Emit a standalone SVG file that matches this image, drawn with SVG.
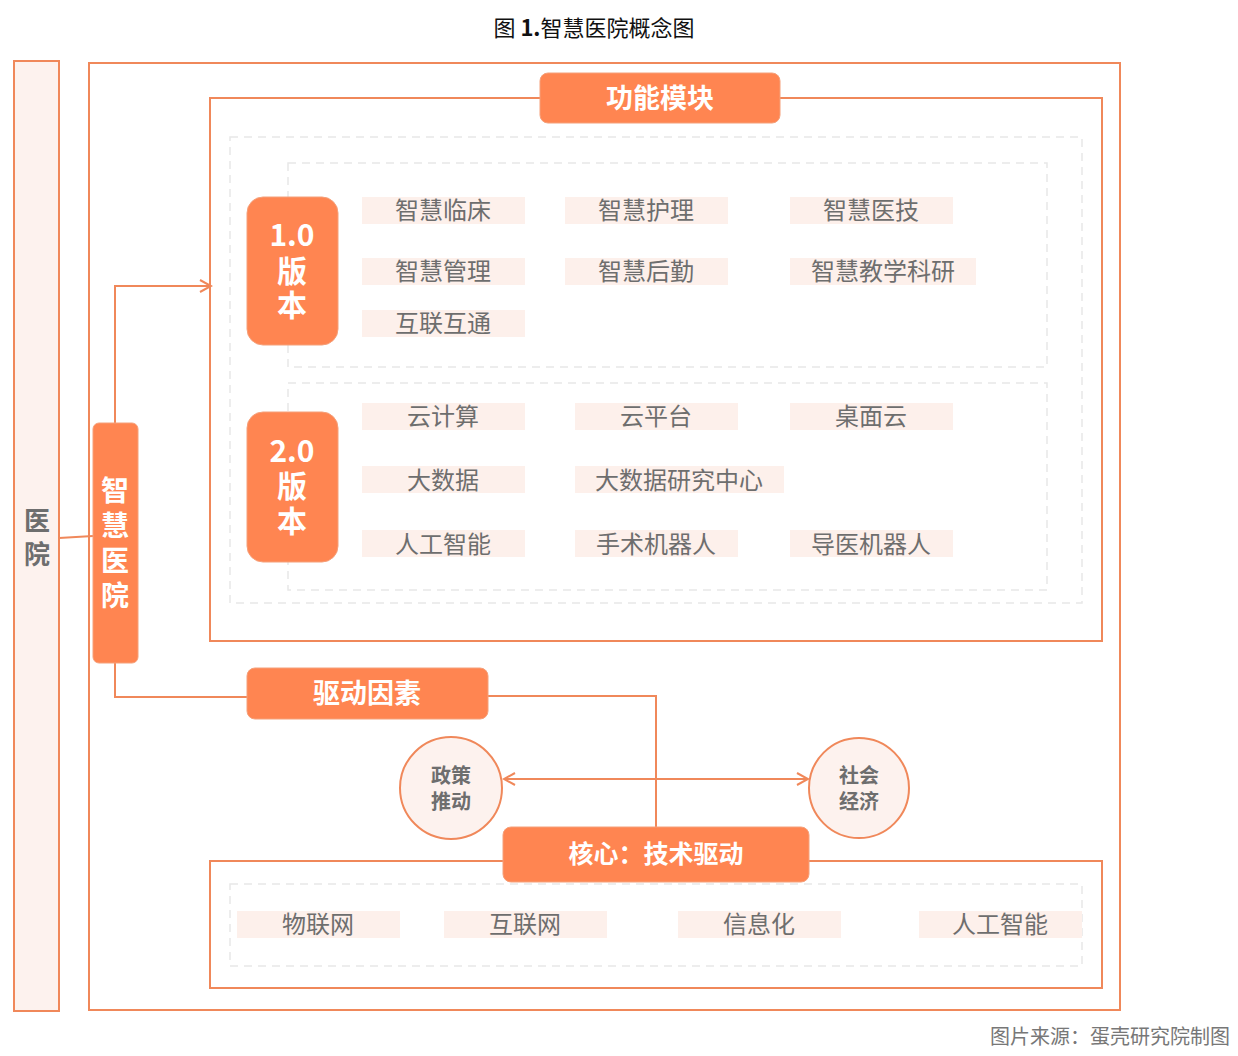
<svg xmlns="http://www.w3.org/2000/svg" width="1238" height="1056" viewBox="0 0 1238 1056">
<style>
text{font-family:"Noto Sans CJK SC","Noto Sans",sans-serif}
.ln{fill:none;stroke:#f0885a;stroke-width:2}
.dash{fill:none;stroke:#e8e8e8;stroke-width:1.5;stroke-dasharray:8 6}
.btn{fill:#ff8551;stroke:#f5a07a;stroke-width:1}
.bt{fill:#fff;font-weight:bold;text-anchor:middle}
.it{fill:#fdf0eb}
.itx{fill:#6e6e6e;font-size:24px;text-anchor:middle}
.cir{fill:#fdf2ee;stroke:#f0885a;stroke-width:2}
.ct{fill:#6e6e6e;font-size:20px;font-weight:bold;text-anchor:middle}
</style>
<defs>
<marker id="ar" markerWidth="14" markerHeight="14" refX="12" refY="7" orient="auto-start-reverse" markerUnits="userSpaceOnUse">
<path d="M1,1 L12,7 L1,13" fill="none" stroke="#f0885a" stroke-width="2"/>
</marker>
</defs>
<rect width="1238" height="1056" fill="#fff"/>
<text x="594" y="36" font-size="22" text-anchor="middle" fill="#111">图 <tspan font-weight="bold">1.</tspan>智慧医院概念图</text>
<g id="hospital"><rect x="14" y="61" width="45" height="950" fill="#fdf2ee" stroke="#f0885a" stroke-width="2"/>
<text x="37" y="530" font-size="26" font-weight="bold" fill="#6e6e6e" text-anchor="middle">医</text>
<text x="37" y="564" font-size="26" font-weight="bold" fill="#6e6e6e" text-anchor="middle">院</text></g>
<rect class="ln" x="89" y="63" width="1031" height="947"/>
<rect class="ln" x="210" y="98" width="892" height="543"/>
<rect class="dash" x="230" y="137" width="852" height="466"/>
<rect class="dash" x="288" y="163" width="759" height="204"/>
<rect class="dash" x="288" y="383" width="759" height="207"/>
<rect class="ln" x="210" y="861" width="892" height="127"/>
<rect class="dash" x="230" y="884" width="852" height="82"/>
<g id="connectors">
<path class="ln" d="M59,538 L93,536"/>
<path class="ln" d="M115,423 V286 H211" marker-end="url(#ar)"/>
<path class="ln" d="M115,663 V697 H247"/>
<path class="ln" d="M488,696 H656 V827"/>
<path class="ln" d="M504,779 H808" marker-start="url(#ar)" marker-end="url(#ar)"/>
</g>
<g id="func"><rect class="btn" x="540" y="73" width="240" height="50" rx="8"/><text class="bt" x="660" y="108" font-size="27">功能模块</text></g>
<g id="v1"><rect class="btn" x="247" y="197" width="91" height="148" rx="16"/>
<text class="bt" x="292" y="246" font-size="30">1.0</text><text class="bt" x="292" y="282" font-size="30">版</text><text class="bt" x="292" y="316" font-size="30">本</text></g>
<g id="v2"><rect class="btn" x="247" y="412" width="91" height="150" rx="16"/>
<text class="bt" x="292" y="462" font-size="30">2.0</text><text class="bt" x="292" y="497" font-size="30">版</text><text class="bt" x="292" y="532" font-size="30">本</text></g>
<g id="zhyy"><rect class="btn" x="93" y="423" width="45" height="240" rx="6"/>
<text class="bt" x="115" y="501" font-size="28">智</text><text class="bt" x="115" y="536" font-size="28">慧</text><text class="bt" x="115" y="571" font-size="28">医</text><text class="bt" x="115" y="606" font-size="28">院</text></g>
<g id="items">
<rect class="it" x="362" y="197" width="163" height="27"/><text class="itx" x="443" y="219">智慧临床</text>
<rect class="it" x="565" y="197" width="163" height="27"/><text class="itx" x="646" y="219">智慧护理</text>
<rect class="it" x="790" y="197" width="163" height="27"/><text class="itx" x="871" y="219">智慧医技</text>
<rect class="it" x="362" y="258" width="163" height="27"/><text class="itx" x="443" y="280">智慧管理</text>
<rect class="it" x="565" y="258" width="163" height="27"/><text class="itx" x="646" y="280">智慧后勤</text>
<rect class="it" x="790" y="258" width="186" height="27"/><text class="itx" x="883" y="280">智慧教学科研</text>
<rect class="it" x="362" y="310" width="163" height="27"/><text class="itx" x="443" y="332">互联互通</text>
<rect class="it" x="362" y="403" width="163" height="27"/><text class="itx" x="443" y="425">云计算</text>
<rect class="it" x="575" y="403" width="163" height="27"/><text class="itx" x="656" y="425">云平台</text>
<rect class="it" x="790" y="403" width="163" height="27"/><text class="itx" x="871" y="425">桌面云</text>
<rect class="it" x="362" y="466" width="163" height="27"/><text class="itx" x="443" y="489">大数据</text>
<rect class="it" x="575" y="466" width="209" height="27"/><text class="itx" x="679" y="489">大数据研究中心</text>
<rect class="it" x="362" y="530" width="163" height="27"/><text class="itx" x="443" y="553">人工智能</text>
<rect class="it" x="575" y="530" width="163" height="27"/><text class="itx" x="656" y="553">手术机器人</text>
<rect class="it" x="790" y="530" width="163" height="27"/><text class="itx" x="871" y="553">导医机器人</text>
<rect class="it" x="237" y="911" width="163" height="27"/><text class="itx" x="318" y="933">物联网</text>
<rect class="it" x="444" y="911" width="163" height="27"/><text class="itx" x="525" y="933">互联网</text>
<rect class="it" x="678" y="911" width="163" height="27"/><text class="itx" x="759" y="933">信息化</text>
<rect class="it" x="919" y="911" width="163" height="27"/><text class="itx" x="1000" y="933">人工智能</text>
</g>
<g id="drive"><rect class="btn" x="247" y="668" width="241" height="51" rx="8"/><text class="bt" x="367" y="703" font-size="27">驱动因素</text></g>
<g id="policy"><circle class="cir" cx="451" cy="788" r="51"/><text class="ct" x="451" y="783">政策</text><text class="ct" x="451" y="809">推动</text></g>
<g id="social"><circle class="cir" cx="859" cy="788" r="50"/><text class="ct" x="859" y="783">社会</text><text class="ct" x="859" y="809">经济</text></g>
<g id="core"><rect class="btn" x="503" y="827" width="306" height="55" rx="8"/><text class="bt" x="656" y="863" font-size="25">核心：技术驱动</text></g>
<text x="1230" y="1044" font-size="20" fill="#777" text-anchor="end">图片来源：蛋壳研究院制图</text>
</svg>
